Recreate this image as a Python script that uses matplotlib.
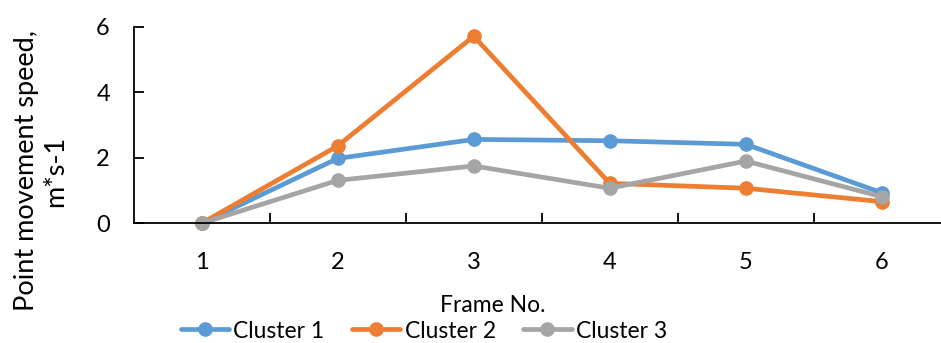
import numpy as np
import matplotlib
matplotlib.use('Agg')
import matplotlib.pyplot as plt
from matplotlib.ticker import FixedLocator

plt.rcParams['font.family'] = ['Lato', 'DejaVu Sans']

frames = [1, 2, 3, 4, 5, 6]
cluster1 = [0.0, 1.98, 2.56, 2.52, 2.41, 0.93]
cluster2 = [0.0, 2.36, 5.71, 1.22, 1.07, 0.66]
cluster3 = [0.0, 1.31, 1.75, 1.07, 1.90, 0.81]
series_names = ['Cluster 1', 'Cluster 2', 'Cluster 3']
colours = ['#5B9BD5', '#ED7D31', '#A5A5A5']

W, H = 941, 343
fig = plt.figure(figsize=(W / 100, H / 100), dpi=100)
ax = fig.add_axes([133.5 / W, 1 - 223.3 / H, (950 - 133.5) / W, (223.3 - 26.7) / H])

for vals, name, col in zip([cluster1, cluster2, cluster3], series_names, colours):
    ax.plot(frames, vals, '-o', color=col, lw=3.4, markersize=9.5,
            label=name, solid_capstyle='round', clip_on=False)

ax.set_xlim(0.5, 6.5)
ax.set_ylim(0, 6)
ax.set_yticks([0, 2, 4, 6])
ax.set_xticks(frames)
ax.set_xticklabels([str(f) for f in frames])
# small inward ticks sit between the categories
ax.xaxis.set_minor_locator(FixedLocator([1.5, 2.5, 3.5, 4.5, 5.5]))
ax.tick_params(axis='x', which='major', length=0, pad=21, labelsize=17)
ax.tick_params(axis='x', which='minor', direction='in', length=7, width=1.3)
ax.tick_params(axis='y', direction='in', length=7, width=1.3, pad=17, labelsize=17)

for side in ['top', 'right']:
    ax.spines[side].set_visible(False)
for side in ['left', 'bottom']:
    ax.spines[side].set_linewidth(1.3)

fig.text(493 / W, 1 - 305 / H, 'Frame No.', ha='center', va='center', fontsize=16.5)
fig.text(41 / W, 1 - 171 / H, 'Point movement speed,\nm*s-1', ha='center', va='center',
         rotation=90, multialignment='center', fontsize=19.5, linespacing=1.2)

fig.legend(loc='center', bbox_to_anchor=(424 / W, 1 - 331 / H), ncol=3, frameon=False,
           fontsize=16.5, handlelength=2.1, handletextpad=0.2, columnspacing=1.2,
           borderpad=0, borderaxespad=0)

fig.savefig('out.png', dpi=100)
